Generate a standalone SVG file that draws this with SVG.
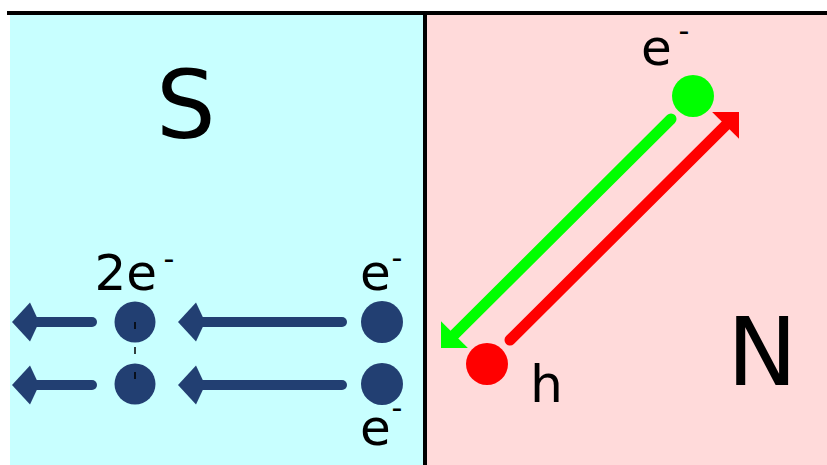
<svg xmlns="http://www.w3.org/2000/svg" xmlns:xlink="http://www.w3.org/1999/xlink" width="827" height="465" viewBox="0 0 827 465">
<style>
text{font-family:"DejaVu Sans","Liberation Sans",sans-serif;fill:#000}
.lbl{font-size:50px}
.sup{font-size:30px}
.big{font-size:94px}
.blue{stroke:#223f72;stroke-width:10;stroke-linecap:round;fill:none}
.g{stroke:#00ff00;stroke-width:11;stroke-linecap:round;fill:none}
.r{stroke:#ff0000;stroke-width:11;stroke-linecap:round;fill:none}
.dotb{fill:#223f72}
</style>
<defs>
<path id="headB" d="M0,0 L-18,-19.5 L-25,-4.5 L-25,4.5 L-18,19.5 Z" fill="#223f72"/>
<path id="headG" d="M0,0 L-19,-19 L-19,19 Z" fill="#00ff00"/>
<path id="headR" d="M0,0 L-19,-19 L-19,19 Z" fill="#ff0000"/>
</defs>
<rect x="0" y="0" width="827" height="465" fill="#ffffff"/>
<g id="regionS">
<rect x="10" y="13" width="415" height="452" fill="#c8ffff"/>
<text class="big" x="156" y="138">S</text>
</g>
<g id="regionN">
<rect x="425" y="13" width="402" height="452" fill="#ffdada"/>
<text class="big" x="727" y="385">N</text>
</g>
<g id="borders">
<rect x="7" y="11" width="820" height="4" fill="#000"/>
<rect x="423" y="13" width="4" height="452" fill="#000"/>
</g>
<g id="connectors">
<path class="blue" d="M92,322 L30,322"/>
<use xlink:href="#headB" href="#headB" transform="translate(12,322) rotate(180)"/>
<path class="blue" d="M92,385 L30,385"/>
<use xlink:href="#headB" href="#headB" transform="translate(12,385) rotate(180)"/>
<path class="blue" d="M342,322 L196,322"/>
<use xlink:href="#headB" href="#headB" transform="translate(178,322) rotate(180)"/>
<path class="blue" d="M342,385 L196,385"/>
<use xlink:href="#headB" href="#headB" transform="translate(178,385) rotate(180)"/>
<path class="g" d="M671,119 L451.6,337.4"/>
<use xlink:href="#headG" href="#headG" transform="translate(441,348) rotate(135)"/>
<path class="r" d="M510,340 L728.4,122.6"/>
<use xlink:href="#headR" href="#headR" transform="translate(739,112) rotate(-45)"/>
</g>
<g id="pair">
<circle class="dotb" cx="135" cy="322" r="20.5"/>
<circle class="dotb" cx="135" cy="384" r="20.5"/>
<path d="M135,322 L135,385" stroke="#000" stroke-width="1.5" stroke-dasharray="7 18" fill="none"/>
<text class="lbl" x="94.5" y="290">2e<tspan class="sup" x="163.5" y="269">-</tspan></text>
</g>
<g id="electronTop">
<circle class="dotb" cx="382" cy="322" r="21"/>
<text class="lbl" x="360" y="290">e<tspan class="sup" x="391.5" y="268">-</tspan></text>
</g>
<g id="electronBottom">
<circle class="dotb" cx="382" cy="384" r="21"/>
<text class="lbl" x="360" y="445">e<tspan class="sup" x="391.5" y="418">-</tspan></text>
</g>
<g id="electronN">
<circle cx="693" cy="96" r="21" fill="#00ff00"/>
<text class="lbl" x="641" y="65">e<tspan class="sup" x="678.5" y="41">-</tspan></text>
</g>
<g id="hole">
<circle cx="487" cy="364" r="21" fill="#ff0000"/>
<text class="lbl" x="530" y="402" style="font-size:52px">h</text>
</g>
</svg>
